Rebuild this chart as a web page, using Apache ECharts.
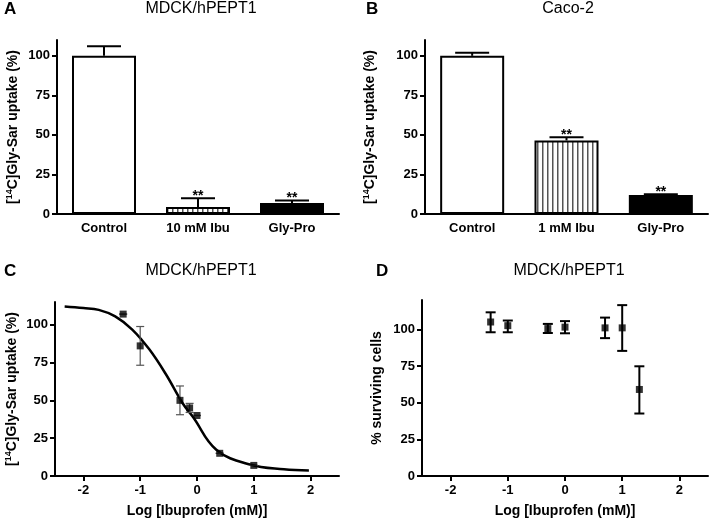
<!DOCTYPE html>
<html><head><meta charset="utf-8">
<script src="https://cdn.jsdelivr.net/npm/echarts@6/dist/echarts.min.js"></script>
<style>html,body{margin:0;padding:0;background:#fff}#c{width:709px;height:519px}</style>
</head><body><div id="c"></div>
<script>
// ---- data ----
const catsA = ['Control', '10 mM Ibu', 'Gly-Pro'];
const valsA = [100, 4.5, 7];
const errA = [6, 5.5, 1.5];
const sigA = ['', '**', '**'];

const catsB = ['Control', '1 mM Ibu', 'Gly-Pro'];
const valsB = [100, 46.5, 12];
const errB = [2, 2, 0.5];
const sigB = ['', '**', '**'];

const xC = [-1.3, -1, -0.3, -0.13, 0, 0.4, 1];
const yC = [107, 86, 50, 45, 40, 15, 7];
const errC = [0, 12.8, 9.5, 3, 0, 0, 0];
const curveX = [-2.33, -2, -1.73, -1.44, -1.14, -0.84, -0.55, -0.25, -0.07, 0.34, 0.93, 1.53, 1.97];
const curveY = [112, 111, 109.8, 105.5, 96.8, 83.7, 67.4, 47.9, 39, 17.4, 7.6, 4.4, 3.7];

const xD = [-1.3, -1, -0.3, 0, 0.7, 1, 1.3];
const yD = [105, 102.5, 100.5, 101.5, 101, 101, 59];
const loD = [98, 98, 97.5, 97.3, 94, 85.3, 42.6];
const hiD = [111.6, 106, 103.7, 105.6, 108, 116.5, 74.8];

const yTicks = [0, 25, 50, 75, 100];
const xTicks = [-2, -1, 0, 1, 2];

// ---- styling helpers ----
const FONT = 'Liberation Sans, Arial, sans-serif';
const stripe = document.createElement('canvas');
stripe.width = 5; stripe.height = 10;
(function () {
  const g = stripe.getContext('2d');
  g.fillStyle = '#fff'; g.fillRect(0, 0, 5, 10);
  g.fillStyle = '#555'; g.fillRect(2, 0, 1.5, 10);
})();
const barFills = ['#ffffff', { image: stripe, repeat: 'repeat' }, '#000000'];

const axisLine = { show: true, onZero: false, lineStyle: { color: '#000', width: 2 } };
const tickStyle = { show: true, length: 5, lineStyle: { color: '#000', width: 2 } };
const labelStyle = { color: '#000', fontFamily: FONT, fontWeight: 'bold', fontSize: 13 };
const nameStyle = {
  color: '#000', fontFamily: FONT, fontWeight: 'bold', fontSize: 14,
  rich: { sup: { fontSize: 9, fontWeight: 'bold', fontFamily: FONT, color: '#000', verticalAlign: 'top', lineHeight: 16 } }
};
const uptakeName = '[{sup|14}C]Gly-Sar uptake (%)';

function catX(idx, cats) {
  return {
    type: 'category', gridIndex: idx, data: cats,
    axisLine: axisLine, axisTick: { show: false },
    axisLabel: Object.assign({ margin: 8 }, labelStyle), splitLine: { show: false }
  };
}
function valX(idx) {
  return {
    type: 'value', gridIndex: idx, min: -2.5, max: 2.5,
    axisLine: axisLine,
    axisTick: Object.assign({ customValues: xTicks }, tickStyle),
    axisLabel: Object.assign({ customValues: xTicks, margin: 8 }, labelStyle),
    splitLine: { show: false },
    name: 'Log [Ibuprofen (mM)]', nameLocation: 'middle', nameGap: 28, nameTextStyle: nameStyle
  };
}
function valY(idx, max, name, gap) {
  return {
    type: 'value', gridIndex: idx, min: 0, max: max,
    axisLine: axisLine,
    axisTick: Object.assign({ customValues: yTicks }, tickStyle),
    axisLabel: Object.assign({ customValues: yTicks, margin: 7 }, labelStyle),
    splitLine: { show: false },
    name: name, nameLocation: 'middle', nameGap: gap, nameTextStyle: nameStyle
  };
}

function barErrSeries(idx, vals, errs, sigs) {
  return {
    type: 'custom', xAxisIndex: idx, yAxisIndex: idx, z: 5,
    data: vals.map((v, i) => [i, v, errs[i]]),
    renderItem: function (params, api) {
      const i = api.value(0), v = api.value(1), e = api.value(2);
      const b = api.coord([i, v]), t = api.coord([i, v + e]);
      const cap = 34;
      const ch = [
        { type: 'line', shape: { x1: b[0], y1: b[1], x2: t[0], y2: t[1] }, style: { stroke: '#000', lineWidth: 2 } },
        { type: 'line', shape: { x1: t[0] - cap / 2, y1: t[1], x2: t[0] + cap / 2, y2: t[1] }, style: { stroke: '#000', lineWidth: 2 } }
      ];
      const s = sigs[params.dataIndex];
      if (s) ch.push({ type: 'text', x: t[0], y: t[1] + 5, style: { text: s, fontFamily: FONT, fontWeight: 'bold', fontSize: 14, fill: '#000', align: 'center', verticalAlign: 'bottom' } });
      return { type: 'group', children: ch };
    }
  };
}
function barSeries(idx, vals) {
  return {
    type: 'bar', xAxisIndex: idx, yAxisIndex: idx, barWidth: 64, z: 2,
    data: vals.map((v, i) => ({ value: v, itemStyle: { color: barFills[i], borderColor: '#000', borderWidth: 2 } }))
  };
}
function xyErrSeries(idx, xs, lo, hi, color, lw, cap) {
  return {
    type: 'custom', xAxisIndex: idx, yAxisIndex: idx, z: 3,
    data: xs.map((x, i) => [x, lo[i], hi[i]]),
    renderItem: function (params, api) {
      const l = api.coord([api.value(0), api.value(1)]), h = api.coord([api.value(0), api.value(2)]);
      const st = { stroke: color, lineWidth: lw };
      return {
        type: 'group', children: [
          { type: 'line', shape: { x1: l[0], y1: l[1], x2: h[0], y2: h[1] }, style: st },
          { type: 'line', shape: { x1: l[0] - cap / 2, y1: l[1], x2: l[0] + cap / 2, y2: l[1] }, style: st },
          { type: 'line', shape: { x1: h[0] - cap / 2, y1: h[1], x2: h[0] + cap / 2, y2: h[1] }, style: st }
        ]
      };
    }
  };
}

const loC = yC.map((y, i) => y - errC[i]);
const hiC = yC.map((y, i) => y + errC[i]);

function txt(x, y, s, size, weight, align) {
  return { type: 'text', x: x, y: y, style: { text: s, fontFamily: FONT, fontSize: size, fontWeight: weight, fill: '#000', align: align, verticalAlign: 'top' } };
}

const option = {
  animation: false,
  backgroundColor: '#fff',
  grid: [
    { left: 57, top: 40, width: 282, height: 174 },
    { left: 425, top: 40, width: 283, height: 174 },
    { left: 55, top: 302, width: 284, height: 175 },
    { left: 422, top: 300, width: 286, height: 176 }
  ],
  xAxis: [catX(0, catsA), catX(1, catsB), valX(2), valX(3)],
  yAxis: [
    valY(0, 110, uptakeName, 36),
    valY(1, 110, uptakeName, 47),
    valY(2, 115, uptakeName, 35),
    valY(3, 120, '% surviving cells', 38)
  ],
  graphic: [
    txt(4, 1, 'A', 17, 'bold', 'left'),
    txt(201, 1, 'MDCK/hPEPT1', 16, 'normal', 'center'),
    txt(366, 1, 'B', 17, 'bold', 'left'),
    txt(568, 1, 'Caco-2', 16, 'normal', 'center'),
    txt(4, 263, 'C', 17, 'bold', 'left'),
    txt(201, 263, 'MDCK/hPEPT1', 16, 'normal', 'center'),
    txt(376, 263, 'D', 17, 'bold', 'left'),
    txt(569, 263, 'MDCK/hPEPT1', 16, 'normal', 'center')
  ],
  series: [
    barSeries(0, valsA), barErrSeries(0, valsA, errA, sigA),
    barSeries(1, valsB), barErrSeries(1, valsB, errB, sigB),
    {
      type: 'line', xAxisIndex: 2, yAxisIndex: 2, smooth: 0.4, showSymbol: false, z: 2,
      data: curveX.map((x, i) => [x, curveY[i]]),
      lineStyle: { color: '#000', width: 2.5 }
    },
    xyErrSeries(2, xC, loC, hiC, '#555', 1.2, 8),
    {
      type: 'scatter', xAxisIndex: 2, yAxisIndex: 2, symbol: 'rect', symbolSize: 7, z: 4,
      data: xC.map((x, i) => [x, yC[i]]), itemStyle: { color: '#000' }
    },
    xyErrSeries(3, xD, loD, hiD, '#000', 2, 10),
    {
      type: 'scatter', xAxisIndex: 3, yAxisIndex: 3, symbol: 'rect', symbolSize: 7, z: 4,
      data: xD.map((x, i) => [x, yD[i]]), itemStyle: { color: '#000' }
    }
  ]
};
const chart = echarts.init(document.getElementById('c'), null, { renderer: 'canvas' });
chart.setOption(option);
</script></body></html>
